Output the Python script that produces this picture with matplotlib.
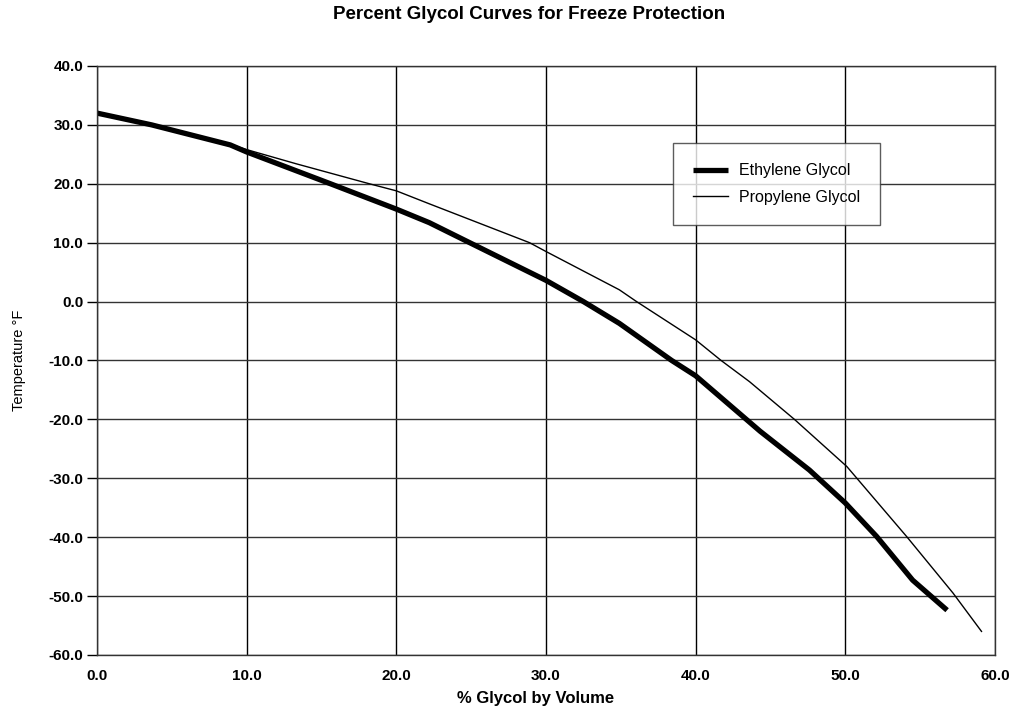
import numpy as np
import matplotlib.pyplot as plt
from matplotlib.ticker import FormatStrFormatter

plt.rcParams['font.family'] = ['Liberation Sans', 'DejaVu Sans']

# values
eth_pct = [0, 3.65, 8.9, 10, 15.6, 20, 22.2, 24.9, 30, 32.5, 34.9, 38.4, 40, 44.3, 47.6, 50, 52.1, 54.5, 56.8]
eth_temp = [32.0, 30.0, 26.6, 25.4, 20.0, 15.7, 13.4, 10.0, 3.6, 0.0, -3.7, -10.0, -12.6, -22.0, -28.6, -34.2, -39.9, -47.3, -52.4]

pro_pct = [0, 3.65, 8.9, 10, 13.3, 18.2, 20, 22.2, 28.9, 30, 34.9, 36.05, 40, 41.7, 43.6, 46.6, 50.1, 54.1, 57.2, 59.1]
pro_temp = [32.0, 30.0, 26.7, 25.8, 23.4, 20.0, 18.8, 16.6, 10.0, 8.5, 2.0, 0.0, -6.5, -10.0, -13.6, -20.0, -28.0, -39.9, -49.5, -56.0]

fig = plt.figure(figsize=(10.13, 7.11), dpi=100)
ax = fig.add_axes([0.0958, 0.0788, 0.8864, 0.8284])

ax.plot(eth_pct, eth_temp, color='black', lw=3.8, solid_capstyle='butt',
        solid_joinstyle='round', label='Ethylene Glycol')
ax.plot(pro_pct, pro_temp, color='black', lw=1.0, solid_joinstyle='round',
        label='Propylene Glycol')

ax.set_xlim(0, 60)
ax.set_ylim(-60, 40)
ax.set_xticks(np.arange(0, 61, 10))
ax.set_yticks(np.arange(-60, 41, 10))
ax.xaxis.set_major_formatter(FormatStrFormatter('%.1f'))
ax.yaxis.set_major_formatter(FormatStrFormatter('%.1f'))
ax.tick_params(axis='x', length=0, pad=10, labelsize=11)
ax.tick_params(axis='y', length=7, width=1, pad=3, labelsize=11)
for lab in ax.get_xticklabels() + ax.get_yticklabels():
    lab.set_fontweight('bold')

ax.grid(True, axis='x', color='black', lw=1.0)
ax.grid(True, axis='y', color='#333333', lw=1.0)
for s in ax.spines.values():
    s.set_color('#333333')
    s.set_linewidth(1.0)

ax.set_xlabel('% Glycol by Volume', fontsize=12, fontweight='bold')
ax.xaxis.set_label_coords(0.488, -0.062)
ax.set_ylabel('Temperature \u00b0F', fontsize=10.5, labelpad=16)

fig.text(0.522, 0.979, 'Percent Glycol Curves for Freeze Protection',
         ha='center', va='center', fontsize=13.5, fontweight='bold')

leg = ax.legend(loc='upper left', bbox_to_anchor=(0.641, 0.869), frameon=True,
                fancybox=False, edgecolor='#333333', fontsize=11.5,
                handlelength=2.2, handletextpad=0.7, borderpad=1.25,
                labelspacing=0.75, borderaxespad=0)
leg.get_frame().set_linewidth(1.0)

fig.savefig('out.png', dpi=100, facecolor='white')
